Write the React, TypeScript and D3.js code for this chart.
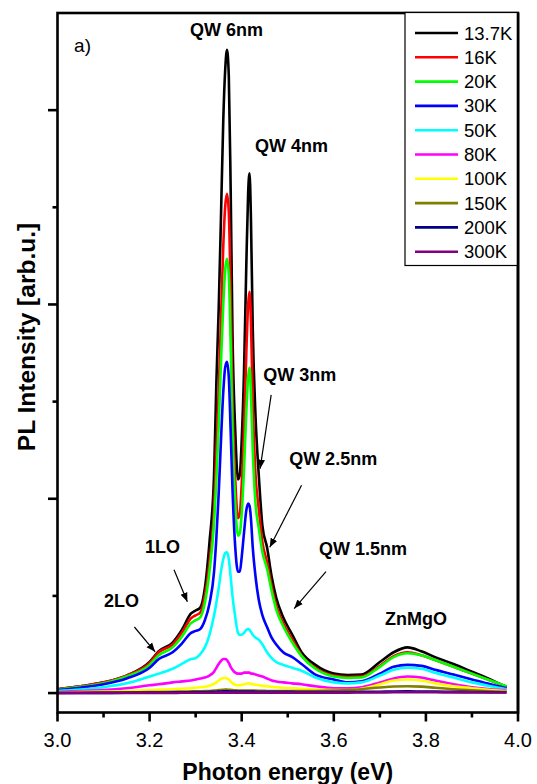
import * as d3 from 'd3'

const W = 537
const H = 784
const MARGIN = { top: 13, right: 19, bottom: 71.5, left: 57.5 }

// photon energy grid (eV), dense around the QW peaks
const energy = [
  3.0, 3.05, 3.1, 3.15, 3.2, 3.22, 3.25, 3.27, 3.29, 3.3,
  3.31, 3.32, 3.33, 3.34, 3.345, 3.35, 3.355, 3.36, 3.364, 3.368,
  3.372, 3.376, 3.38, 3.386, 3.392, 3.396, 3.4, 3.405, 3.41, 3.414,
  3.417, 3.42, 3.424, 3.43, 3.437, 3.445, 3.455, 3.465, 3.475, 3.49,
  3.51, 3.53, 3.56, 3.6, 3.63, 3.66, 3.7, 3.73, 3.76, 3.79,
  3.82, 3.86, 3.9, 3.94, 3.975
]

const temps = ['13.7K', '16K', '20K', '30K', '50K', '80K', '100K', '150K', '200K', '300K']
const colors = ['#000000', '#ff0000', '#00ff00', '#0000ff', '#00ffff', '#ff00ff', '#ffff00', '#808000', '#000080', '#800080']

const pl13 = [
  0.04, 0.07, 0.11, 0.18, 0.32, 0.43, 0.52, 0.65, 0.82, 0.85,
  0.88, 1.08, 1.55, 2.25, 3.2, 3.95, 4.9, 5.9, 6.4, 6.62,
  6.35, 5.2, 3.7, 2.7, 2.2, 2.25, 2.6, 3.3, 4.4, 5.15,
  5.35, 4.9, 3.75, 2.85, 2.25, 1.72, 1.5, 1.2, 0.98, 0.78,
  0.6, 0.42, 0.29, 0.2, 0.185, 0.19, 0.32, 0.42, 0.47, 0.43,
  0.37, 0.3, 0.22, 0.14, 0.06
]
const pl16 = [
  0.04, 0.07, 0.11, 0.18, 0.31, 0.42, 0.5, 0.62, 0.77, 0.8,
  0.83, 1.0, 1.35, 1.9, 2.5, 3.1, 3.85, 4.6, 5.0, 5.14,
  4.95, 4.1, 3.0, 2.2, 1.8, 1.85, 2.15, 2.7, 3.5, 4.0,
  4.13, 3.85, 3.0, 2.25, 1.9, 1.55, 1.35, 1.1, 0.9, 0.72,
  0.55, 0.39, 0.26, 0.18, 0.165, 0.17, 0.28, 0.38, 0.42, 0.39,
  0.34, 0.27, 0.2, 0.13, 0.065
]
const pl20 = [
  0.035, 0.065, 0.1, 0.17, 0.29, 0.39, 0.47, 0.58, 0.72, 0.75,
  0.78, 0.93, 1.25, 1.75, 2.2, 2.75, 3.4, 4.0, 4.35, 4.47,
  4.3, 3.6, 2.7, 1.95, 1.62, 1.65, 1.85, 2.3, 2.9, 3.25,
  3.35, 3.1, 2.5, 1.95, 1.7, 1.45, 1.28, 1.05, 0.86, 0.69,
  0.52, 0.38, 0.25, 0.17, 0.155, 0.16, 0.27, 0.37, 0.41, 0.39,
  0.34, 0.27, 0.2, 0.13, 0.07
]
const pl30 = [
  0.03, 0.055, 0.09, 0.15, 0.26, 0.35, 0.42, 0.51, 0.62, 0.64,
  0.66, 0.75, 0.92, 1.25, 1.6, 2.05, 2.6, 3.1, 3.35, 3.41,
  3.25, 2.7, 2.1, 1.5, 1.25, 1.25, 1.4, 1.65, 1.88, 1.95,
  1.93, 1.8, 1.5, 1.2, 0.96, 0.8, 0.68, 0.57, 0.5, 0.42,
  0.37, 0.3, 0.19, 0.14, 0.11, 0.12, 0.2, 0.27, 0.29, 0.28,
  0.24, 0.19, 0.14, 0.09, 0.05
]
const pl50 = [
  0.02, 0.035, 0.06, 0.1, 0.17, 0.2, 0.25, 0.3, 0.35, 0.36,
  0.4, 0.47, 0.6, 0.8, 0.93, 1.08, 1.25, 1.38, 1.44, 1.45,
  1.38, 1.2, 1.0, 0.78, 0.62, 0.6, 0.6, 0.62, 0.65, 0.66,
  0.65, 0.63, 0.6, 0.57, 0.55, 0.5, 0.42, 0.36, 0.32, 0.29,
  0.26, 0.23, 0.16, 0.11, 0.1, 0.11, 0.18, 0.24, 0.26, 0.25,
  0.21, 0.16, 0.11, 0.07, 0.04
]
const pl80 = [
  0.01, 0.02, 0.03, 0.05, 0.08, 0.09, 0.11, 0.12, 0.13, 0.14,
  0.15, 0.16, 0.18, 0.22, 0.26, 0.3, 0.33, 0.35, 0.35, 0.34,
  0.31, 0.27, 0.24, 0.21, 0.2, 0.2, 0.2, 0.21, 0.21, 0.21,
  0.21, 0.2, 0.2, 0.19, 0.18, 0.17, 0.15, 0.13, 0.12, 0.11,
  0.1, 0.09, 0.07, 0.05, 0.05, 0.06, 0.11, 0.15, 0.17, 0.16,
  0.13, 0.09, 0.06, 0.04, 0.03
]
const pl100 = [
  0.005, 0.01, 0.015, 0.02, 0.03, 0.035, 0.04, 0.045, 0.05, 0.055,
  0.06, 0.065, 0.075, 0.095, 0.11, 0.13, 0.145, 0.155, 0.155, 0.15,
  0.14, 0.12, 0.1, 0.085, 0.08, 0.08, 0.085, 0.09, 0.095, 0.1,
  0.1, 0.095, 0.09, 0.085, 0.08, 0.075, 0.07, 0.065, 0.06, 0.055,
  0.05, 0.045, 0.035, 0.03, 0.03, 0.045, 0.09, 0.13, 0.14, 0.13,
  0.1, 0.07, 0.05, 0.03, 0.02
]
const pl150 = [
  0.002, 0.003, 0.005, 0.007, 0.01, 0.011, 0.013, 0.015, 0.017, 0.018,
  0.019, 0.02, 0.022, 0.025, 0.027, 0.03, 0.032, 0.034, 0.035, 0.035,
  0.034, 0.033, 0.031, 0.029, 0.027, 0.026, 0.026, 0.026, 0.027, 0.027,
  0.027, 0.027, 0.026, 0.025, 0.024, 0.023, 0.022, 0.021, 0.02, 0.02,
  0.02, 0.02, 0.021, 0.025, 0.03, 0.04, 0.058, 0.068, 0.07, 0.066,
  0.055, 0.04, 0.028, 0.018, 0.012
]
const pl200 = [
  0.0, 0.001, 0.002, 0.003, 0.005, 0.006, 0.007, 0.008, 0.009, 0.01,
  0.01, 0.011, 0.012, 0.013, 0.014, 0.015, 0.016, 0.017, 0.017, 0.017,
  0.017, 0.016, 0.016, 0.015, 0.015, 0.015, 0.015, 0.015, 0.015, 0.015,
  0.015, 0.015, 0.015, 0.014, 0.014, 0.014, 0.013, 0.013, 0.012, 0.012,
  0.012, 0.011, 0.011, 0.011, 0.011, 0.012, 0.014, 0.016, 0.017, 0.016,
  0.015, 0.013, 0.011, 0.009, 0.008
]
const pl300 = [
  0.0, 0.0, 0.001, 0.001, 0.002, 0.002, 0.002, 0.003, 0.003, 0.003,
  0.003, 0.004, 0.004, 0.004, 0.005, 0.005, 0.005, 0.005, 0.005, 0.005,
  0.005, 0.005, 0.005, 0.005, 0.005, 0.005, 0.005, 0.005, 0.005, 0.005,
  0.005, 0.005, 0.005, 0.005, 0.005, 0.005, 0.005, 0.005, 0.005, 0.005,
  0.005, 0.005, 0.005, 0.005, 0.005, 0.006, 0.007, 0.008, 0.008, 0.008,
  0.008, 0.007, 0.007, 0.006, 0.006
]

const spectra = [pl13, pl16, pl20, pl30, pl50, pl80, pl100, pl150, pl200, pl300]

const xTicks = [3.0, 3.2, 3.4, 3.6, 3.8, 4.0]
const xMinor = [3.1, 3.3, 3.5, 3.7, 3.9]
const yTicks = [0, 2, 4, 6]
const yMinor = [1, 3, 5]

// annotations in data units: [label, energy, intensity, anchor]
const labels: [string, number, number, string][] = [
  ['QW 6nm', 3.367, 6.76, 'middle'],
  ['QW 4nm', 3.429, 5.57, 'start'],
  ['QW 3nm', 3.447, 3.21, 'start'],
  ['QW 2.5nm', 3.503, 2.35, 'start'],
  ['QW 1.5nm', 3.568, 1.42, 'start'],
  ['ZnMgO', 3.711, 0.7, 'start'],
  ['1LO', 3.19, 1.44, 'start'],
  ['2LO', 3.101, 0.89, 'start'],
]
// arrows: from (e0, i0) to tip (e1, i1)
const arrows = [
  [3.253, 1.27, 3.282, 0.94],
  [3.167, 0.68, 3.212, 0.425],
  [3.464, 3.07, 3.44, 2.31],
  [3.53, 2.14, 3.461, 1.5],
  [3.583, 1.25, 3.514, 0.87],
]

export default function App() {
  const x = d3.scaleLinear().domain([3, 4]).range([MARGIN.left, W - MARGIN.right])
  const y = d3.scaleLinear().domain([-0.2, 7]).range([H - MARGIN.bottom, MARGIN.top])

  const line = d3.line<number>()
    .x((_, i) => x(energy[i]))
    .y(d => y(d))
    .curve(d3.curveMonotoneX)

  const x0 = x(3), x1 = x(4), yb = y(-0.2), yt = y(7)
  const font = 'Arial, "Liberation Sans", Helvetica, sans-serif'

  const legX = 405, legY = 12.5, legW = x1 - 405, rowH = 24.3

  return (
    <svg width={W} height={H} style={{ position: 'absolute', left: 0, top: 0, display: 'block' }} fontFamily={font}>
      <defs>
        <marker id="ah" viewBox="0 0 10 10" refX="10" refY="5" markerWidth="9" markerHeight="9" markerUnits="userSpaceOnUse" orient="auto">
          <path d="M0,1 L10,5 L0,9 z" fill="#000" />
        </marker>
      </defs>
      <rect width={W} height={H} fill="#fff" />

      {/* spectra */}
      {spectra.map((s, k) => (
        <path key={temps[k]} d={line(s) || ''} fill="none" stroke={colors[k]} strokeWidth={2.6} strokeLinejoin="round" />
      ))}

      {/* frame */}
      <rect x={x0} y={yt} width={x1 - x0} height={yb - yt} fill="none" stroke="#000" strokeWidth={2.6} />

      {/* x ticks */}
      {xTicks.map(t => (
        <g key={'xt' + t}>
          <line x1={x(t)} x2={x(t)} y1={yb} y2={yb + 9} stroke="#000" strokeWidth={2.6} />
          <text x={x(t)} y={747} textAnchor="middle" fontSize={20}>{t.toFixed(1)}</text>
        </g>
      ))}
      {xMinor.map(t => (
        <line key={'xm' + t} x1={x(t)} x2={x(t)} y1={yb} y2={yb + 5} stroke="#000" strokeWidth={2.6} />
      ))}

      {/* y ticks (no labels) */}
      {yTicks.map(t => (
        <line key={'yt' + t} x1={x0 - 9.5} x2={x0} y1={y(t)} y2={y(t)} stroke="#000" strokeWidth={2.6} />
      ))}
      {yMinor.map(t => (
        <line key={'ym' + t} x1={x0 - 5} x2={x0} y1={y(t)} y2={y(t)} stroke="#000" strokeWidth={2.6} />
      ))}

      {/* axis titles */}
      <text x={(x0 + x1) / 2} y={780} textAnchor="middle" fontSize={23} fontWeight="bold">Photon energy (eV)</text>
      <text transform={`translate(35, 337) rotate(-90)`} textAnchor="middle" fontSize={24.5} fontWeight="bold">PL Intensity [arb.u.]</text>

      <text x={x(3.036)} y={y(6.6)} fontSize={19}>a)</text>

      {/* peak annotations */}
      {labels.map(([t, e, v, a]) => (
        <text key={t} x={x(e)} y={y(v)} textAnchor={a} fontSize={18} fontWeight="bold">{t}</text>
      ))}
      {arrows.map((a, i) => (
        <line key={'ar' + i} x1={x(a[0])} y1={y(a[1])} x2={x(a[2])} y2={y(a[3])} stroke="#000" strokeWidth={1.2} markerEnd="url(#ah)" />
      ))}

      {/* legend */}
      <rect x={legX} y={legY} width={legW} height={rowH * temps.length + 10} fill="#fff" stroke="#000" strokeWidth={1.2} />
      {temps.map((t, k) => {
        const cy = legY + 20.5 + k * rowH
        return (
          <g key={'lg' + t}>
            <line x1={415} x2={458} y1={cy} y2={cy} stroke={colors[k]} strokeWidth={2.6} />
            <text x={464} y={cy + 6.5} fontSize={18.5}>{t}</text>
          </g>
        )
      })}
      <line x1={x1} x2={x1} y1={yt} y2={yb} stroke="#000" strokeWidth={2.6} />
    </svg>
  )
}
